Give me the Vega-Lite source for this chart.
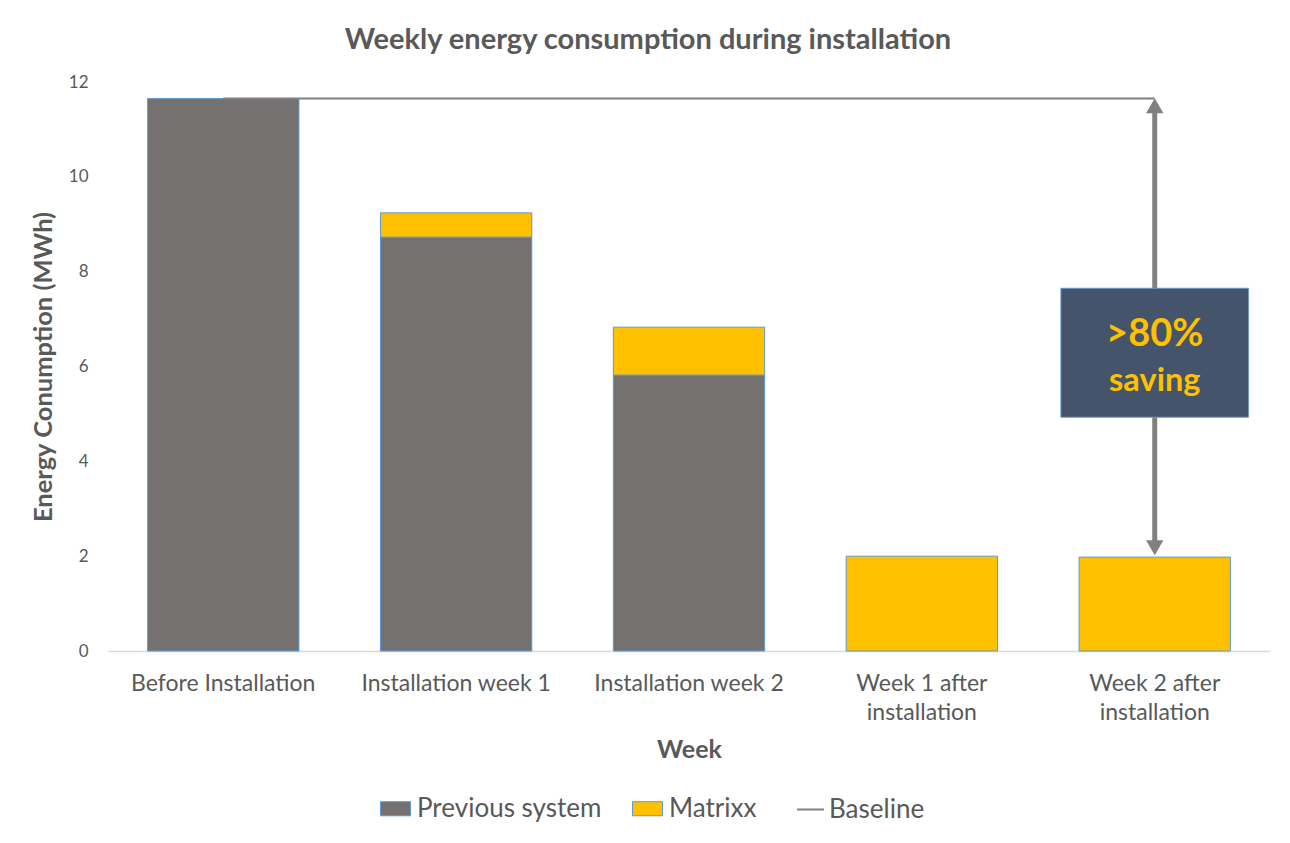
{
  "$schema": "https://vega.github.io/schema/vega-lite/v6.json",
  "width": 1162,
  "height": 569,
  "autosize": {"type": "none"},
  "padding": {"left": 108, "top": 82, "right": 20, "bottom": 192},
  "background": "white",
  "config": {
    "font": "Lato",
    "view": {"stroke": null},
    "axis": {"grid": false}
  },
  "title": {
    "text": "Weekly energy consumption during installation",
    "fontSize": 29,
    "fontWeight": "bold",
    "color": "#595959",
    "anchor": "middle",
    "dx": -41,
    "offset": 18
  },
  "datasets": {
    "bars": [
      {"week": "Before Installation", "series": "Previous system", "value": 11.65},
      {"week": "Installation week 1", "series": "Previous system", "value": 8.73},
      {"week": "Installation week 1", "series": "Matrixx", "value": 0.51},
      {"week": "Installation week 2", "series": "Previous system", "value": 5.82},
      {"week": "Installation week 2", "series": "Matrixx", "value": 1.01},
      {"week": "Week 1 after installation", "series": "Matrixx", "value": 2.0},
      {"week": "Week 2 after installation", "series": "Matrixx", "value": 1.98}
    ],
    "baseline": [
      {"week": "Before Installation", "series": "Baseline", "value": 11.65},
      {"week": "Installation week 1", "series": "Baseline", "value": 11.65},
      {"week": "Installation week 2", "series": "Baseline", "value": 11.65},
      {"week": "Week 1 after installation", "series": "Baseline", "value": 11.65},
      {"week": "Week 2 after installation", "series": "Baseline", "value": 11.65}
    ],
    "annot": [
      {"week": "Week 2 after installation", "arrowTop": 11.4, "arrowBottom": 2.3, "tipTop": 11.5, "tipBottom": 2.18, "boxTop": 7.65, "boxBottom": 4.93, "line1": 6.66, "line2": 5.69}
    ]
  },
  "encoding": {
    "x": {
      "field": "week",
      "type": "nominal",
      "title": "Week",
      "scale": {
        "domain": ["Before Installation", "Installation week 1", "Installation week 2", "Week 1 after installation", "Week 2 after installation"],
        "paddingInner": 0.35,
        "paddingOuter": 0.17
      },
      "axis": {
        "labelAngle": 0,
        "labelFontSize": 23,
        "labelColor": "#595959",
        "labelLimit": 400,
        "labelPadding": 21,
        "labelLineHeight": 29,
        "labelExpr": "datum.label === 'Week 1 after installation' ? ['Week 1 after', 'installation'] : datum.label === 'Week 2 after installation' ? ['Week 2 after', 'installation'] : datum.label",
        "ticks": false,
        "domainColor": "#D9D9D9",
        "domainWidth": 1.5,
        "titleFontSize": 25,
        "titleFontWeight": "bold",
        "titleColor": "#595959",
        "titlePadding": 13
      }
    }
  },
  "layer": [
    {
      "data": {"name": "bars"},
      "mark": {"type": "bar", "stroke": "#5B9BD5", "strokeWidth": 1},
      "encoding": {
        "y": {
          "field": "value",
          "type": "quantitative",
          "stack": "zero",
          "title": "Energy Conumption (MWh)",
          "scale": {"domain": [0, 12]},
          "axis": {
            "values": [0, 2, 4, 6, 8, 10, 12],
            "domain": false,
            "ticks": false,
            "tickSize": 0,
            "labelFontSize": 17,
            "labelColor": "#595959",
            "labelPadding": 20,
            "titleFontSize": 25.5,
            "titleFontWeight": "bold",
            "titleColor": "#595959",
            "titlePadding": 12
          }
        },
        "color": {
          "field": "series",
          "type": "nominal",
          "scale": {
            "domain": ["Previous system", "Matrixx"],
            "range": ["#767171", "#FFC000"]
          },
          "legend": {
            "orient": "none",
            "legendX": 272,
            "legendY": 711,
            "direction": "horizontal",
            "title": null,
            "labelFontSize": 26,
            "labelColor": "#595959",
            "labelOffset": 6,
            "columnPadding": 28,
            "symbolSize": 900,
            "symbolType": "M-1,-0.47H1V0.47H-1Z",
            "symbolStrokeColor": "#5B9BD5",
            "symbolStrokeWidth": 1,
            "labelLimit": 400
          }
        },
        "order": {"field": "series", "sort": "descending"}
      }
    },
    {
      "data": {"name": "baseline"},
      "mark": {"type": "line", "strokeWidth": 2},
      "encoding": {
        "y": {"field": "value", "type": "quantitative", "title": "Energy Conumption (MWh)"},
        "stroke": {
          "field": "series",
          "type": "nominal",
          "scale": {"domain": ["Baseline"], "range": ["#808080"]},
          "legend": {
            "orient": "none",
            "legendX": 688,
            "legendY": 713,
            "direction": "horizontal",
            "title": null,
            "labelFontSize": 26,
            "labelColor": "#595959",
            "labelOffset": 4,
            "symbolSize": 729,
            "symbolType": "stroke",
            "symbolStrokeWidth": 2,
            "labelLimit": 400
          }
        }
      }
    },
    {
      "data": {"name": "annot"},
      "mark": {"type": "rule", "color": "#808080", "strokeWidth": 5},
      "encoding": {
        "y": {"field": "arrowTop", "type": "quantitative", "title": "Energy Conumption (MWh)"},
        "y2": {"field": "arrowBottom"}
      }
    },
    {
      "data": {"name": "annot"},
      "mark": {"type": "point", "shape": "triangle-up", "filled": true, "color": "#808080", "opacity": 1, "size": 300},
      "encoding": {
        "y": {"field": "tipTop", "type": "quantitative", "title": "Energy Conumption (MWh)"}
      }
    },
    {
      "data": {"name": "annot"},
      "mark": {"type": "point", "shape": "triangle-down", "filled": true, "color": "#808080", "opacity": 1, "size": 300},
      "encoding": {
        "y": {"field": "tipBottom", "type": "quantitative", "title": "Energy Conumption (MWh)"}
      }
    },
    {
      "data": {"name": "annot"},
      "mark": {"type": "bar", "fill": "#44546A", "stroke": "#6F9BD1", "strokeWidth": 1, "width": {"band": 1.24}},
      "encoding": {
        "y": {"field": "boxTop", "type": "quantitative", "title": "Energy Conumption (MWh)"},
        "y2": {"field": "boxBottom"}
      }
    },
    {
      "data": {"name": "annot"},
      "mark": {"type": "text", "text": ">80%", "fontSize": 38, "fontWeight": "bold", "color": "#FFC000", "baseline": "middle", "align": "center"},
      "encoding": {
        "y": {"field": "line1", "type": "quantitative", "title": "Energy Conumption (MWh)"}
      }
    },
    {
      "data": {"name": "annot"},
      "mark": {"type": "text", "text": "saving", "fontSize": 32.5, "fontWeight": "bold", "color": "#FFC000", "baseline": "middle", "align": "center"},
      "encoding": {
        "y": {"field": "line2", "type": "quantitative", "title": "Energy Conumption (MWh)"}
      }
    }
  ]
}
